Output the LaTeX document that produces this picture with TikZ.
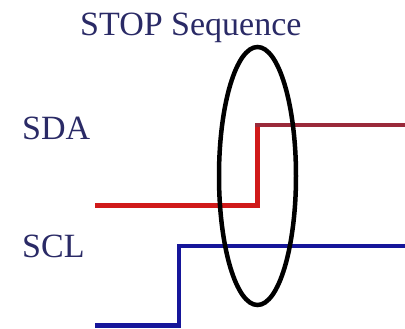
\documentclass[tikz,border=0pt]{standalone}
\usepackage{fontspec}
\setmainfont{Liberation Serif}
\usetikzlibrary{shapes.geometric}
\definecolor{txtnavy}{HTML}{2A2A66}
\definecolor{sdared}{HTML}{D01A1A}
\definecolor{sdadark}{HTML}{9A2A3A}
\definecolor{sclblue}{HTML}{16169A}
\begin{document}
\begin{tikzpicture}[x=1pt,y=-1pt,
  lbl/.style={anchor=base west,inner sep=0pt,text=txtnavy,font=\fontsize{34}{40}\selectfont},
  sigline/.style={line width=5pt,line join=miter,line cap=butt}]
\useasboundingbox[fill=white] (0,0) rectangle (405,329);
\node[lbl] (title) at (80,36) {STOP Sequence};
\node[lbl] (sda) at (22,140) {SDA};
\node[lbl] (scl) at (22,257) {SCL};
% SDA
\coordinate (a0) at (95,205.5);
\coordinate (a1) at (257.5,205.5);
\coordinate (a2) at (257.5,125.5);
\coordinate (a3) at (405,125.5);
\draw[sigline,draw=sdared,line width=5.5pt] (a0) -- (a1) -- (a2);
\draw[sigline,draw=sdadark,line width=4pt] ([xshift=-2.5pt]a2) -- (a3);
% SCL
\coordinate (c0) at (95,325.5);
\coordinate (c1) at (179,325.5);
\coordinate (c2) at (179,246);
\coordinate (c3) at (405,246);
\draw[sigline,draw=sclblue,line width=4.5pt] (c0) -- (c1) -- (c2) -- (c3);
% ellipse
\node[draw=black,line width=4.5pt,ellipse,minimum width=77pt,minimum height=258pt,inner sep=0pt] (stop) at (257.5,176) {};
\end{tikzpicture}
\end{document}
